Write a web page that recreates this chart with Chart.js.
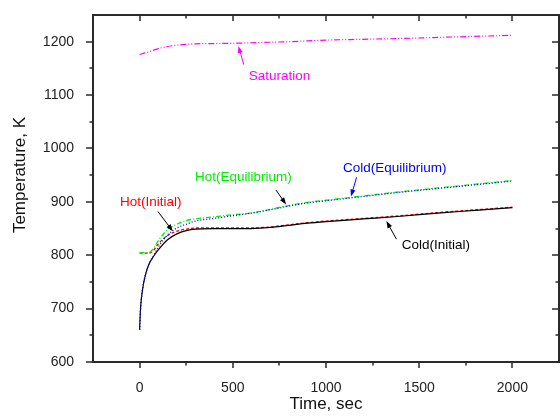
<!DOCTYPE html>
<html>
<head>
<meta charset="utf-8">
<script src="https://cdn.jsdelivr.net/npm/chart.js@4.4.1/dist/chart.umd.min.js"></script>
<style>
  body { margin: 0; background: #fff; }
  #wrap { width: 560px; height: 416px; }
</style>
</head>
<body>
<div id="wrap"><canvas id="chart" width="560" height="416"></canvas></div>
<script>
const FONT = "'Liberation Sans', Arial, sans-serif";

// time axis (sec) shared by all curves
const times = [0, 5, 10, 20, 35, 50, 75, 100, 150, 200, 250, 300, 400, 500, 600, 700, 800, 900, 1000, 1200, 1400, 1600, 1800, 2000];

// temperatures, K
const saturation    = [1176, 1176.5, 1177, 1178, 1179.5, 1181, 1184, 1187, 1191, 1193.5, 1195, 1196, 1196.5, 1197, 1198, 1199, 1200, 1201.5, 1203, 1204.5, 1206, 1208, 1210, 1212];
const hotEquil      = [805, 805, 805, 805, 805, 805, 813, 827, 848, 858, 865, 868, 872, 876, 879, 886, 893, 899, 903, 911, 919, 926, 933, 940];
const coldEquil     = [660, 700, 720, 745, 768, 783, 799, 815, 838, 851, 858, 864, 869, 874, 879, 885, 892, 898, 902, 910, 918, 925, 932, 939];
const hotInitial    = [804, 804, 804, 804, 804, 804, 809, 821, 837, 845, 849, 851, 851, 851, 851, 853, 857, 861, 864, 869, 874, 880, 885, 890];
const coldInitial   = [660, 700, 720, 745, 768, 783, 798, 810, 829, 840, 846, 849, 850, 850, 850, 852, 856, 860, 863, 868, 873, 879, 884, 889];

const xTicks = [0, 500, 1000, 1500, 2000];
const xMinor = [250, 750, 1250, 1750];
const yTicks = [600, 700, 800, 900, 1000, 1100, 1200];
const yMinor = [650, 750, 850, 950, 1050, 1150];

// curve labels: text position and arrow tail/head, in data units
const notes = [
  { text: 'Saturation',        color: '#ff00ff', arrow: '#ff00ff', x: 750,  y: 1136, tx: 559,  ty: 1157, hx: 530,  hy: 1192 },
  { text: 'Hot(Initial)',      color: '#ff0000', arrow: '#000000', x: 60,   y: 900,  tx: 98,   ty: 882,  hx: 178,  hy: 845 },
  { text: 'Hot(Equilibrium)',  color: '#00ee00', arrow: '#000000', x: 557,  y: 946,  tx: 732,  ty: 922,  hx: 786,  hy: 895 },
  { text: 'Cold(Equilibrium)', color: '#0000ff', arrow: '#0000ff', x: 1369, y: 962,  tx: 1164, ty: 946,  hx: 1134, hy: 910 },
  { text: 'Cold(Initial)',     color: '#000000', arrow: '#000000', x: 1589, y: 819,  tx: 1378, ty: 830,  hx: 1324, hy: 864 }
];

function toPoints(vals) {
  return times.map((t, i) => ({ x: t, y: vals[i] }));
}

function series(label, vals, color, dash, width) {
  return {
    label: label,
    data: toPoints(vals),
    borderColor: color,
    borderWidth: width,
    borderDash: dash,
    pointRadius: 0,
    showLine: true,
    fill: false,
    cubicInterpolationMode: 'monotone'
  };
}

const framePlugin = {
  id: 'frame',
  afterDatasetsDraw(chart) {
    const { ctx, chartArea: a, scales: { x, y } } = chart;
    ctx.save();
    ctx.strokeStyle = '#2a2a2a';
    ctx.lineWidth = 2;
    ctx.strokeRect(a.left, a.top, a.right - a.left, a.bottom - a.top);
    ctx.lineWidth = 1.5;
    ctx.beginPath();
    const tick = (px, py, dx, dy) => { ctx.moveTo(px, py); ctx.lineTo(px + dx, py + dy); };
    xTicks.forEach(v => {
      const px = Math.round(x.getPixelForValue(v));
      tick(px, a.bottom, 0, 6);
      tick(px, a.top, 0, 6);
    });
    xMinor.forEach(v => {
      const px = Math.round(x.getPixelForValue(v));
      tick(px, a.bottom, 0, 3.5);
      tick(px, a.top, 0, 3.5);
    });
    yTicks.forEach(v => {
      const py = Math.round(y.getPixelForValue(v));
      tick(a.left, py, -7, 0);
      tick(a.right, py, -7, 0);
    });
    yMinor.forEach(v => {
      const py = Math.round(y.getPixelForValue(v));
      tick(a.left, py, -3.5, 0);
      tick(a.right, py, -3.5, 0);
    });
    ctx.stroke();

    // y axis title
    ctx.translate(20, 175);
    ctx.rotate(-Math.PI / 2);
    ctx.font = '17px ' + FONT;
    ctx.fillStyle = '#111';
    ctx.textAlign = 'center';
    ctx.textBaseline = 'middle';
    ctx.fillText('Temperature, K', 0, 0);
    ctx.restore();
  }
};

const notesPlugin = {
  id: 'notes',
  afterDatasetsDraw(chart) {
    const { ctx, scales: { x, y } } = chart;
    ctx.save();
    ctx.font = '13.5px ' + FONT;
    ctx.textAlign = 'center';
    ctx.textBaseline = 'middle';
    notes.forEach(n => {
      ctx.fillStyle = n.color;
      ctx.fillText(n.text, x.getPixelForValue(n.x), y.getPixelForValue(n.y));

      const x0 = x.getPixelForValue(n.tx), y0 = y.getPixelForValue(n.ty);
      const x1 = x.getPixelForValue(n.hx), y1 = y.getPixelForValue(n.hy);
      const ang = Math.atan2(y1 - y0, x1 - x0);
      ctx.strokeStyle = n.arrow;
      ctx.fillStyle = n.arrow;
      ctx.lineWidth = 1;
      ctx.beginPath();
      ctx.moveTo(x0, y0);
      ctx.lineTo(x1 - 4 * Math.cos(ang), y1 - 4 * Math.sin(ang));
      ctx.stroke();
      ctx.beginPath();
      ctx.moveTo(x1, y1);
      ctx.lineTo(x1 - 7 * Math.cos(ang) + 2.5 * Math.sin(ang), y1 - 7 * Math.sin(ang) - 2.5 * Math.cos(ang));
      ctx.lineTo(x1 - 7 * Math.cos(ang) - 2.5 * Math.sin(ang), y1 - 7 * Math.sin(ang) + 2.5 * Math.cos(ang));
      ctx.closePath();
      ctx.fill();
    });
    ctx.restore();
  }
};

new Chart(document.getElementById('chart'), {
  type: 'scatter',
  data: {
    datasets: [
      series('Cold(Equilibrium)', coldEquil, '#0000ff', [1, 2], 1.3),
      series('Hot(Equilibrium)', hotEquil, '#00ee00', [5, 2, 1, 2], 1.3),
      series('Cold(Initial)', coldInitial, '#000000', [], 1.2),
      series('Hot(Initial)', hotInitial, '#ff0000', [3, 2], 1.3),
      series('Saturation', saturation, '#ff00ff', [6, 2, 1, 2, 1, 2], 1.2)
    ]
  },
  options: {
    responsive: false,
    animation: false,
    layout: { padding: { top: 15, right: 1, left: 0, bottom: 0 } },
    plugins: { legend: { display: false }, tooltip: { enabled: false } },
    scales: {
      x: {
        type: 'linear',
        min: -250,
        max: 2250,
        grid: { display: false },
        border: { display: false },
        afterBuildTicks: axis => { axis.ticks = xTicks.map(v => ({ value: v })); },
        afterFit: axis => { axis.height = 54; axis.paddingLeft = 0; axis.paddingRight = 0; },
        ticks: { color: '#222', padding: 10, maxRotation: 0, font: { family: FONT, size: 14 }, callback: v => String(v) },
        title: { display: true, text: 'Time, sec', color: '#111', padding: { top: 0, bottom: 1 }, font: { family: FONT, size: 17 } }
      },
      y: {
        type: 'linear',
        min: 600,
        max: 1250,
        grid: { display: false },
        border: { display: false },
        afterBuildTicks: axis => { axis.ticks = yTicks.map(v => ({ value: v })); },
        afterFit: axis => { axis.width = 93; axis.paddingTop = 0; axis.paddingBottom = 0; },
        ticks: { color: '#222', padding: 11, font: { family: FONT, size: 14 }, callback: v => String(v) },
        title: { display: false }
      }
    }
  },
  plugins: [framePlugin, notesPlugin]
});
</script>
</body>
</html>
